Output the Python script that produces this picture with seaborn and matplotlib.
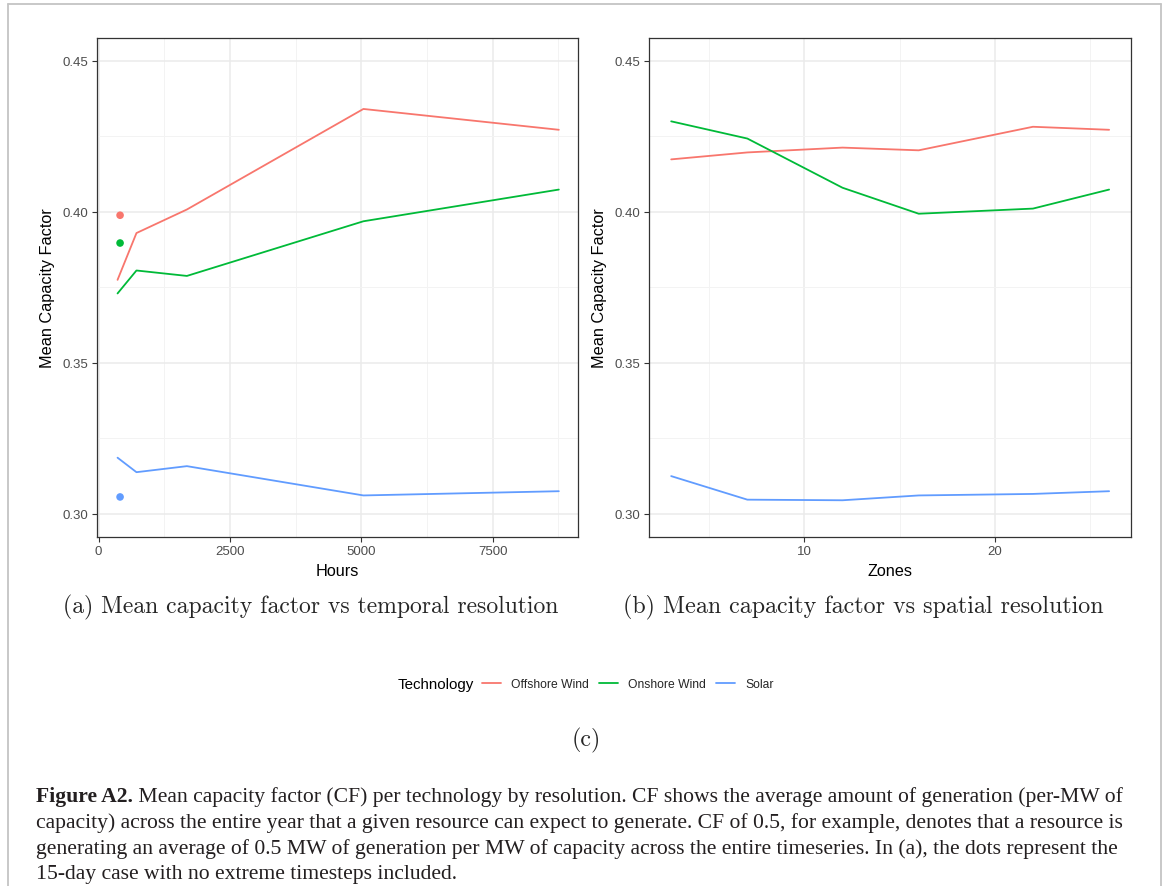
import numpy as np
import pandas as pd
import matplotlib
matplotlib.use("Agg")
import matplotlib.pyplot as plt
import seaborn as sns
from matplotlib.ticker import FixedLocator, FormatStrFormatter
from matplotlib.lines import Line2D

# ---------------- data ----------------
technologies = ["Offshore Wind", "Onshore Wind", "Solar"]
palette = ["#F8766D", "#00BA38", "#619CFF"]

hours = [360, 720, 1680, 5040, 8760]
offshore_hours = [0.3775, 0.3930, 0.4008, 0.4341, 0.4272]
onshore_hours = [0.3730, 0.3806, 0.3788, 0.3969, 0.4074]
solar_hours = [0.3186, 0.3138, 0.3158, 0.3061, 0.3075]

dot_hours = [408, 408, 408]
dot_values = [0.3989, 0.3897, 0.3056]

zones = [3, 7, 12, 16, 22, 26]
offshore_zones = [0.4174, 0.4197, 0.4213, 0.4204, 0.4282, 0.4272]
onshore_zones = [0.4300, 0.4243, 0.4080, 0.3994, 0.4011, 0.4074]
solar_zones = [0.3125, 0.3047, 0.3045, 0.3061, 0.3066, 0.3075]

hour_ticks = [0, 2500, 5000, 7500]
hour_minor = [1250, 3750, 6250, 8750]
zone_ticks = [10, 20]
zone_minor = [5, 15, 25]
cf_ticks = [0.30, 0.35, 0.40, 0.45]
cf_minor = [0.325, 0.375, 0.425]

subcap_a = "(a) Mean capacity factor vs temporal resolution"
subcap_b = "(b) Mean capacity factor vs spatial resolution"
caption_bold = "Figure A2."
caption_lines = [
    " Mean capacity factor (CF) per technology by resolution. CF shows the average amount of generation (per-MW of",
    "capacity) across the entire year that a given resource can expect to generate. CF of 0.5, for example, denotes that a resource is",
    "generating an average of 0.5 MW of generation per MW of capacity across the entire timeseries. In (a), the dots represent the",
    "15-day case with no extreme timesteps included.",
]

df_h = pd.DataFrame({
    "Hours": hours * 3,
    "CF": offshore_hours + onshore_hours + solar_hours,
    "Technology": [t for t in technologies for _ in hours],
})
df_dots = pd.DataFrame({"Hours": dot_hours, "CF": dot_values, "Technology": technologies})
df_z = pd.DataFrame({
    "Zones": zones * 3,
    "CF": offshore_zones + onshore_zones + solar_zones,
    "Technology": [t for t in technologies for _ in zones],
})

# ---------------- figure ----------------
W, H = 1168, 887
sns.set_theme(style="white")
plt.rcParams['font.family'] = ['Liberation Sans', 'DejaVu Sans']

fig = plt.figure(figsize=(W / 100, H / 100), dpi=100)
fig.patch.set_facecolor("white")


def px_axes(x0, y0, x1, y1):
    return fig.add_axes([x0 / W, 1 - y1 / H, (x1 - x0) / W, (y1 - y0) / H])


ax1 = px_axes(96.8, 39.3, 578, 537.5)
ax2 = px_axes(649.3, 39.3, 1131, 537.5)

sns.lineplot(data=df_h, x="Hours", y="CF", hue="Technology", hue_order=technologies,
             palette=palette, linewidth=1.3, ax=ax1, legend=True)
sns.scatterplot(data=df_dots, x="Hours", y="CF", hue="Technology", hue_order=technologies,
                palette=palette, s=30, edgecolor="none", ax=ax1, legend=False, zorder=3)
sns.lineplot(data=df_z, x="Zones", y="CF", hue="Technology", hue_order=technologies,
             palette=palette, linewidth=1.3, ax=ax2, legend=False)

handles, labels = ax1.get_legend_handles_labels()
ax1.get_legend().remove()


def style(ax, xlim, xmaj, xmin, xlabel):
    ax.set_xlim(xlim)
    ax.set_ylim(0.2925, 0.4575)
    ax.xaxis.set_major_locator(FixedLocator(xmaj))
    ax.xaxis.set_minor_locator(FixedLocator(xmin))
    ax.yaxis.set_major_locator(FixedLocator(cf_ticks))
    ax.yaxis.set_minor_locator(FixedLocator(cf_minor))
    ax.yaxis.set_major_formatter(FormatStrFormatter("%.2f"))
    ax.grid(which="major", color="#EBEBEB", linewidth=1.1)
    ax.grid(which="minor", color="#F3F3F3", linewidth=0.7)
    ax.set_axisbelow(True)
    for s in ax.spines.values():
        s.set_color("#333333")
        s.set_linewidth(0.9)
        s.set_visible(True)
    ax.tick_params(which="major", length=3.6, width=0.8, color="#333333", labelsize=9.5,
                   labelcolor="#4D4D4D", pad=2.7, direction="out", bottom=True, left=True)
    ax.tick_params(which="minor", length=0, bottom=False, left=False)
    ax.set_xlabel(xlabel, fontsize=11.7, color="black", labelpad=4)
    ax.set_ylabel("Mean Capacity Factor", fontsize=11.7, color="black", labelpad=5.5)


style(ax1, (-35, 9125), hour_ticks, hour_minor, "Hours")
style(ax2, (1.85, 27.15), zone_ticks, zone_minor, "Zones")

# sub-captions
fig.text(311 / W, 1 - 607 / H, subcap_a, ha="center", va="center", fontsize=17.1, family="cmr10")
fig.text(863.5 / W, 1 - 607 / H, subcap_b, ha="center", va="center", fontsize=17.3, family="cmr10")
fig.text(586 / W, 1 - 740 / H, "(c)", ha="center", va="center", fontsize=17.2, family="cmr10")

# legend
fig.text(474 / W, 1 - 685 / H, "Technology", ha="right", va="center", fontsize=10.9, color="black")
fig.legend(handles, labels, loc="center left", bbox_to_anchor=(482 / W, 1 - 685 / H), ncol=3,
           frameon=False, fontsize=8.7, handlelength=1.55, handletextpad=0.85, columnspacing=0.85,
           borderpad=0, borderaxespad=0)

# caption
cap_font = ["Liberation Serif", "DejaVu Serif"]
fig.canvas.draw()
r = fig.canvas.get_renderer()
base = 14.0
tb = fig.text(36 / W, 1 - 797 / H, caption_bold, fontsize=base, fontweight="bold", family=cap_font,
              va="center", ha="left", color="#231F20")
tr = fig.text(0, 1 - 797 / H, caption_lines[0], fontsize=base, family=cap_font, va="center", ha="left",
              color="#231F20")
wb = tb.get_window_extent(r).width
wr = tr.get_window_extent(r).width
scale = (1125 - 36) / (wb + wr)
fs = base * scale
tb.set_fontsize(fs)
tr.set_fontsize(fs)
wb = tb.get_window_extent(r).width
tr.set_x((36 + wb) / W)
for i, line in enumerate(caption_lines[1:], start=1):
    fig.text(36 / W, 1 - (797 + 25.8 * i) / H, line, fontsize=fs, family=cap_font, va="center",
             ha="left", color="#231F20")

# frame around the figure
frame_col = "#C4C4C4"
for (x0, y0, x1, y1) in [(8, 5, 8, 887), (8, 5, 1161, 5), (1161, 5, 1161, 887)]:
    fig.add_artist(Line2D([x0 / W, x1 / W], [1 - y0 / H, 1 - y1 / H], transform=fig.transFigure,
                          color=frame_col, linewidth=1.3))

fig.savefig("out.png", dpi=100, facecolor="white")
